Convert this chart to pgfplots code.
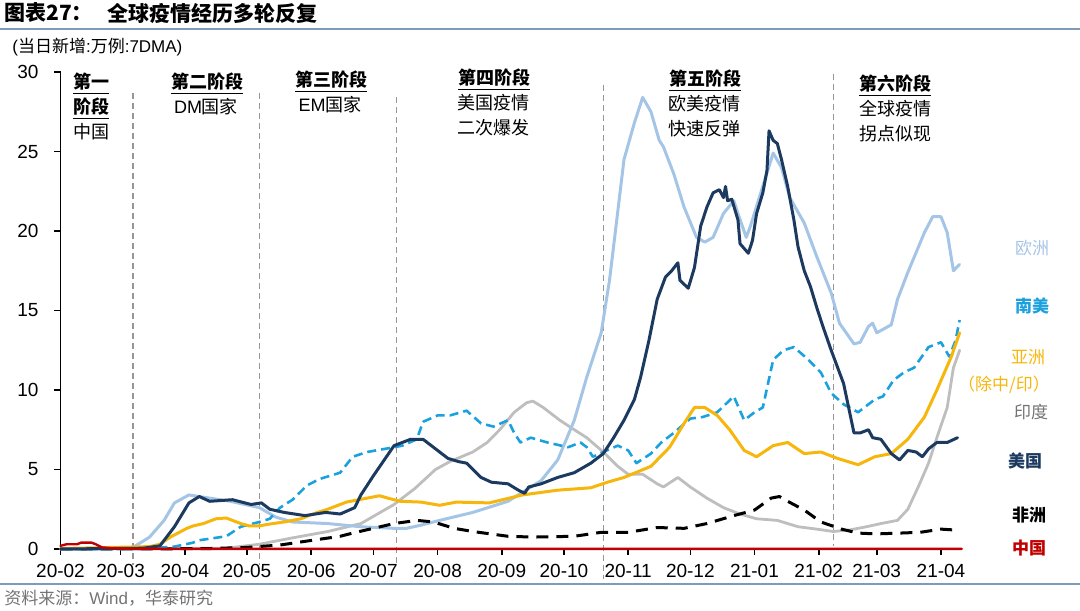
\documentclass[border=0pt]{standalone}
\usepackage{fontspec}
\setmainfont{Liberation Sans}
\newfontfamily\cjk{Noto Sans CJK SC}
\usepackage{pgfplots}
\pgfplotsset{compat=1.18}

\definecolor{eur}{RGB}{165,197,230}
\definecolor{usa}{RGB}{28,58,96}
\definecolor{sam}{RGB}{27,161,222}
\definecolor{asia}{RGB}{247,182,12}
\definecolor{ind}{RGB}{190,190,190}
\definecolor{chn}{RGB}{192,0,0}
\definecolor{rule}{RGB}{127,155,185}
\definecolor{phase}{RGB}{150,150,150}

\begin{document}
\begin{tikzpicture}
\path[use as bounding box] (0,0) rectangle (540pt,305pt);

% title block
\node[anchor=west,inner sep=0] at (2pt,298.5pt) {\cjk\bfseries\fontsize{10.5}{12}\selectfont 图表27：};
\node[anchor=west,inner sep=0] at (53.5pt,298.5pt) {\cjk\bfseries\fontsize{10.5}{12}\selectfont 全球疫情经历多轮反复};
\draw[rule,line width=1pt] (0,290.25pt) -- (540pt,290.25pt);
\node[anchor=west,inner sep=0] at (6pt,281.5pt) {\fontsize{8.5}{10}\selectfont ({\cjk 当日新增}:{\cjk 万例}:7DMA)};
\draw[rule,line width=0.8pt] (0,13pt) -- (540pt,13pt);
\node[anchor=west,inner sep=0,text=black!55] at (2pt,6pt) {\fontsize{8.5}{10}\selectfont {\cjk 资料来源：}Wind{\cjk ，华泰研究}};

\begin{axis}[
  at={(30.25pt,30.5pt)}, anchor=south west,
  scale only axis, width=450.6pt, height=238.5pt,
  xmin=0, xmax=435, ymin=0, ymax=30,
  axis x line=bottom, axis y line=left,
  axis line style={-, black, line width=0.8pt},
  xtick={0,29,60,90,121,151,182,213,243,274,304,335,366,394,425},
  xticklabels={20-02,20-03,20-04,20-05,20-06,20-07,20-08,20-09,20-10,20-11,20-12,21-01,21-02,21-03,21-04},
  ytick={0,5,...,30},
  tick align=outside, major tick length=3pt,
  tick style={black, line width=0.8pt},
  ticklabel style={font=\fontsize{9.5}{11}\selectfont},
  yticklabel style={xshift=-4.5pt},
  xticklabel style={yshift=-1pt},
  /pgf/number format/assume math mode=true,
  clip=false,
  every axis plot/.append style={line join=round, line cap=round},
]

% phase separators
\draw[phase,line width=0.6pt,dash pattern=on 3pt off 2pt] (axis cs:35,28.7) -- (axis cs:35,-1);
\draw[phase,line width=0.6pt,dash pattern=on 3pt off 2pt] (axis cs:96,28.7) -- (axis cs:96,-1);
\draw[phase,line width=0.6pt,dash pattern=on 3pt off 2pt] (axis cs:162,28.4) -- (axis cs:162,-1);
\draw[phase,line width=0.6pt,dash pattern=on 3pt off 2pt] (axis cs:262,29.2) -- (axis cs:262,-1.9);
\draw[phase,line width=0.6pt,dash pattern=on 3pt off 2pt] (axis cs:373,29.9) -- (axis cs:373,0.2);

% India
\addplot[ind, line width=1.4pt] coordinates {
(0,0) (80,0.05) (96,0.3) (112,0.7) (129,1.1) (145,1.6) (161,2.8) (171,3.8)
(181,5.0) (188,5.5) (199,6.1) (206,6.7) (212,7.5) (219,8.6) (225,9.2) (228,9.3)
(233,8.9) (241,8.1) (248,7.5) (254,7.0) (262,6.1) (269,5.2) (274,4.7) (281,4.7)
(288,4.1) (291,3.9) (298,4.5) (304,3.9) (312,3.2) (320,2.6) (328,2.2) (336,1.9)
(346,1.8) (356,1.4) (365,1.25) (373,1.1) (381,1.2) (389,1.4) (396,1.6) (404,1.8)
(409,2.5) (414,3.9) (419,5.4) (423,7.0) (428,8.9) (431,11.4) (434,12.5)
};

% Europe
\addplot[eur, line width=1.5pt] coordinates {
(0,0) (29,0.02) (35,0.1) (43,0.75) (50,1.8) (55,2.9) (62,3.4) (67,3.3) (82,3.0)
(96,2.6) (104,2.0) (112,1.7) (129,1.6) (145,1.4) (161,1.3) (167,1.3) (174,1.5)
(183,1.8) (199,2.3) (216,3.0) (232,4.3) (240,5.6) (248,8.1) (254,10.8) (261,13.6)
(265,16.9) (272,24.5) (277,26.8) (281,28.4) (285,27.5) (289,25.7) (291,25.3)
(296,23.6) (301,21.5) (307,19.6) (311,19.3) (315,19.6) (320,21.1) (325,21.9)
(327,21.1) (331,19.6) (333,20.3) (338,22.4) (344,24.9) (348,24.0) (352,22.1)
(359,20.5) (365,18.4) (372,16.1) (376,14.2) (383,12.9) (386,13.0) (390,14.0)
(392,14.2) (394,13.6) (401,14.1) (404,15.7) (409,17.4) (417,19.9) (421,20.9)
(425,20.9) (428,19.9) (431,17.5) (434,17.9)
};

% Africa
\addplot[black, line width=1.5pt, dash pattern=on 6pt off 4pt, line cap=butt] coordinates {
(0,0) (70,0.02) (90,0.1) (106,0.25) (119,0.5) (135,0.8) (141,1.0) (151,1.3)
(161,1.6) (172,1.8) (180,1.7) (190,1.3) (199,1.1) (216,0.8) (228,0.75) (248,0.8)
(261,1.05) (274,1.05) (288,1.35) (301,1.3) (312,1.6) (325,2.1) (335,2.45)
(343,3.2) (347,3.3) (351,3.0) (359,2.45) (367,1.7) (377,1.25) (385,1.0)
(394,0.95) (405,1.0) (415,1.05) (425,1.25) (431,1.2) (434,1.15)
};

% South America
\addplot[sam, line width=1.3pt, dash pattern=on 4.5pt off 2.5pt, line cap=butt] coordinates {
(0,0) (40,0) (55,0.15) (64,0.4) (67,0.55) (80,0.8) (87,1.4) (96,1.7) (101,1.9)
(106,2.6) (112,3.1) (119,4.0) (125,4.4) (135,4.8) (141,5.8) (148,6.1) (161,6.4)
(165,6.5) (172,6.9) (175,8.0) (182,8.4) (188,8.4) (196,8.7) (203,7.9) (209,7.7)
(216,8.1) (219,7.3) (222,6.7) (227,7.0) (235,6.7) (245,6.4) (251,6.7) (254,6.4)
(257,5.8) (262,6.1) (269,6.5) (274,6.2) (278,5.4) (285,6.0) (290,6.7) (296,7.3)
(304,8.2) (310,8.3) (317,8.6) (325,9.6) (330,8.1) (335,8.6) (339,8.9) (344,11.9)
(349,12.5) (354,12.7) (361,11.9) (367,11.1) (372,9.8) (378,9.1) (385,8.6)
(393,9.4) (397,9.6) (402,10.6) (407,11.1) (412,11.4) (419,12.7) (425,13.0)
(429,12.1) (432,13.1) (434,14.4)
};

% Asia ex China/India
\addplot[asia, line width=1.5pt] coordinates {
(0,0.03) (43,0.15) (48,0.3) (53,0.75) (61,1.3) (64,1.45) (69,1.6) (75,1.9)
(80,1.95) (87,1.6) (91,1.45) (96,1.45) (100,1.55) (108,1.7) (116,1.9) (124,2.3)
(129,2.5) (132,2.65) (138,2.95) (154,3.35) (158,3.2) (164,3.0) (174,2.95)
(183,2.75) (191,2.95) (207,2.9) (223,3.4) (240,3.7) (256,3.85) (264,4.2)
(272,4.5) (285,5.2) (294,6.4) (301,7.9) (306,8.9) (311,8.9) (317,8.4) (323,7.5)
(330,6.2) (336,5.8) (344,6.5) (351,6.7) (359,6.0) (367,6.1) (375,5.7) (385,5.3)
(393,5.8) (401,6.0) (409,6.9) (417,8.3) (423,10.0) (430,12.1) (434,13.6)
};

% USA
\addplot[usa, line width=1.5pt] coordinates {
(0,0) (40,0.05) (48,0.2) (55,1.4) (62,2.9) (67,3.3) (72,3.0) (83,3.1) (92,2.8)
(97,2.9) (101,2.5) (108,2.3) (118,2.1) (128,2.3) (135,2.2) (142,2.6) (145,3.4)
(151,4.6) (161,6.5) (169,6.9) (175,6.9) (182,6.2) (187,5.7) (192,5.5) (196,5.4)
(203,4.5) (208,4.2) (216,4.1) (221,3.7) (224,3.5) (226,3.9) (232,4.1) (240,4.5)
(248,4.8) (256,5.4) (262,6.0) (267,7.0) (272,8.1) (277,9.4) (280,10.8) (284,13.1)
(288,15.7) (292,17.1) (295,17.5) (298,18.0) (299,16.9) (303,16.4) (306,17.7)
(309,20.3) (312,21.5) (315,22.4) (318,22.6) (320,22.1) (321,22.8) (322,21.9)
(324,22.0) (327,20.7) (328,19.2) (330,18.9) (332,18.6) (334,19.4) (336,21.1)
(339,22.4) (341,23.8) (342,26.3) (344,25.7) (346,25.5) (348,24.5) (351,22.8)
(354,20.7) (356,19.0) (359,17.5) (362,16.5) (365,15.2) (368,14.0) (372,12.5)
(378,10.4) (383,7.3) (386,7.3) (390,7.5) (392,7.0) (396,6.9) (401,6.0) (405,5.6)
(409,6.2) (413,6.1) (416,5.8) (419,6.3) (423,6.7) (428,6.7) (433,7.0)
};

% China
\addplot[chn, line width=1.2pt] coordinates {
(0,0.2) (3,0.3) (8,0.3) (10,0.4) (15,0.4) (17,0.3) (20,0.1) (25,0.05) (30,0.02)
(40,0.01) (100,0.01) (200,0.01) (300,0.01) (435,0.01)
};
\end{axis}

% phase labels
\begin{scope}[every node/.style={anchor=base,inner sep=0,font=\cjk\fontsize{9}{11}\selectfont}]
\node at (45.5pt,260.6pt) {\bfseries\underline{第一}};
\node at (45.5pt,248.1pt) {\bfseries\underline{阶段}};
\node at (45.5pt,235.6pt) {中国};
\node at (103.5pt,260.6pt) {\bfseries\underline{第二阶段}};
\node at (103pt,248.1pt) {{\fontspec{Liberation Sans}DM}国家};
\node at (165.5pt,261.6pt) {\bfseries\underline{第三阶段}};
\node at (165pt,249.1pt) {{\fontspec{Liberation Sans}EM}国家};
\node at (247pt,262.6pt) {\bfseries\underline{第四阶段}};
\node at (246.5pt,250.1pt) {美国疫情};
\node at (246.5pt,237.6pt) {二次爆发};
\node at (352.5pt,262.1pt) {\bfseries\underline{第五阶段}};
\node at (352pt,249.6pt) {欧美疫情};
\node at (352pt,237.1pt) {快速反弹};
\node at (447.5pt,259.6pt) {\bfseries\underline{第六阶段}};
\node at (447.5pt,247.1pt) {全球疫情};
\node at (447.5pt,234.6pt) {拐点似现};
\end{scope}

% series labels
\begin{scope}[every node/.style={anchor=base,inner sep=0,font=\cjk\fontsize{8.5}{10}\selectfont}]
\node[text=eur] at (516pt,177.8pt) {欧洲};
\node[text=sam] at (516pt,148.8pt) {\bfseries 南美};
\node[text=asia] at (514pt,123.3pt) {亚洲};
\node[text=asia] at (502pt,109.8pt) {（除中/印）};
\node[text=black!55] at (515.5pt,95.8pt) {印度};
\node[text=usa] at (512.5pt,71.3pt) {\bfseries 美国};
\node[text=black] at (514.5pt,44.3pt) {\bfseries 非洲};
\node[text=chn] at (514.5pt,27.8pt) {\bfseries 中国};
\end{scope}
\end{tikzpicture}
\end{document}
